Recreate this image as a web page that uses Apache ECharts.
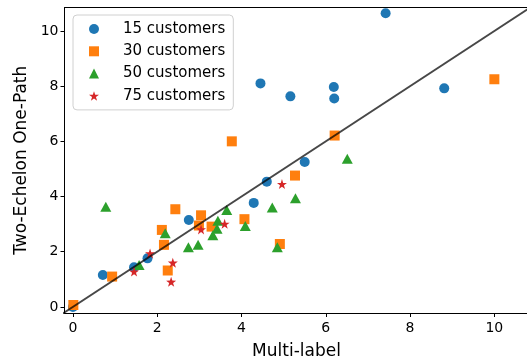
<!DOCTYPE html>
<html>
<head>
<meta charset="utf-8">
<script src="https://cdn.jsdelivr.net/npm/echarts@6/dist/echarts.min.js"></script>
<style>
  html, body { margin: 0; padding: 0; background: #fff; }
  #chart { width: 527px; height: 360px; }
</style>
</head>
<body>
<div id="chart"></div>
<script>
// Objective values: multi-label heuristic (x) vs. two-echelon one-path (y)
const c15x = [0.00, 0.71, 1.45, 1.77, 2.75, 4.29, 4.60, 5.50, 4.45, 5.16, 6.19, 6.20, 7.42, 8.81];
const c15y = [0.00, 1.16, 1.44, 1.76, 3.15, 3.77, 4.54, 5.25, 8.10, 7.63, 7.97, 7.55, 10.64, 7.92];

const c30x = [0.01, 0.93, 2.25, 2.16, 2.11, 2.43, 3.04, 2.99, 3.29, 3.77, 4.07, 4.91, 5.27, 6.21, 10.00];
const c30y = [0.07, 1.10, 1.32, 2.25, 2.79, 3.54, 3.32, 2.95, 2.91, 6.00, 3.18, 2.28, 4.76, 6.21, 8.25];

const c50x = [0.78, 1.57, 2.19, 2.74, 2.97, 3.32, 3.42, 3.44, 3.65, 4.09, 4.73, 4.85, 5.28, 6.51];
const c50y = [3.63, 1.52, 2.67, 2.16, 2.25, 2.60, 2.83, 3.12, 3.51, 2.93, 3.60, 2.16, 3.94, 5.37];

const c75x = [1.45, 1.83, 2.37, 2.33, 3.04, 3.60, 4.96];
const c75y = [1.28, 1.94, 1.60, 0.91, 2.81, 3.01, 4.45];

const seriesNames = ['15 customers', '30 customers', '50 customers', '75 customers'];
const tickValues = [0, 2, 4, 6, 8, 10];
// y = x reference, clipped to the plot area
const identityEnds = [-1, 12];

const zip = (xs, ys) => xs.map((x, i) => [x, ys[i]]);

const starPath = 'path://M50,0 L61.8,35.3 L98.9,35.5 L69.1,57.7 L80.2,93.1 L50,71.6 L19.8,93.1 L30.9,57.7 L1.1,35.5 L38.2,35.3 Z';

const font = 'DejaVu Sans';
const chart = echarts.init(document.getElementById('chart'), null, { renderer: 'canvas' });

const xBase = {
  type: 'value', min: -0.2, max: 10.81,
  axisLine: { show: true, onZero: false, lineStyle: { color: '#000', width: 1 } },
  splitLine: { show: false }
};

chart.setOption({
  animation: false,
  backgroundColor: '#fff',
  grid: { left: 64.5, top: 7.5, right: -1.5, bottom: 47, containLabel: false, outerBoundsMode: 'none' },
  legend: {
    orient: 'vertical', left: 73, top: 15,
    data: seriesNames,
    itemWidth: 10, itemHeight: 10, itemGap: 6.3,
    padding: [6, 8, 6, 16],
    backgroundColor: 'rgba(255,255,255,0.8)',
    borderColor: '#d0d0d0', borderWidth: 1, borderRadius: 4,
    textStyle: { fontFamily: font, fontSize: 15, color: '#000', lineHeight: 16, padding: [0, 0, 0, 19] }
  },
  xAxis: [
    Object.assign({}, xBase, {
      position: 'bottom',
      name: 'Multi-label', nameLocation: 'middle', nameGap: 30,
      nameTextStyle: { fontFamily: font, fontSize: 17, color: '#000' },
      axisTick: { show: true, inside: false, length: 4, customValues: tickValues, lineStyle: { color: '#000' } },
      axisLabel: { show: true, customValues: tickValues, margin: 8, fontFamily: font, fontSize: 14, color: '#000' }
    }),
    Object.assign({}, xBase, {
      position: 'top',
      axisTick: { show: false }, axisLabel: { show: false }
    })
  ],
  yAxis: {
    type: 'value', min: -0.22, max: 10.85,
    name: 'Two-Echelon One-Path', nameLocation: 'middle', nameGap: 28,
    nameTextStyle: { fontFamily: font, fontSize: 17, color: '#000' },
    axisLine: { show: true, onZero: false, lineStyle: { color: '#000', width: 1 } },
    axisTick: { show: true, inside: false, length: 4, customValues: tickValues, lineStyle: { color: '#000' } },
    axisLabel: { show: true, customValues: tickValues, margin: 6, fontFamily: font, fontSize: 14, color: '#000' },
    splitLine: { show: false }
  },
  series: [
    { name: seriesNames[0], type: 'scatter', data: zip(c15x, c15y), symbol: 'circle', symbolSize: 10,
      itemStyle: { color: '#1f77b4', opacity: 1 }, z: 2 },
    { name: seriesNames[1], type: 'scatter', data: zip(c30x, c30y), symbol: 'rect', symbolSize: 10,
      itemStyle: { color: '#ff7f0e', opacity: 1 }, z: 3 },
    { name: seriesNames[2], type: 'scatter', data: zip(c50x, c50y), symbol: 'triangle', symbolSize: [11, 10],
      itemStyle: { color: '#2ca02c', opacity: 1 }, z: 4 },
    { name: seriesNames[3], type: 'scatter', data: zip(c75x, c75y), symbol: starPath, symbolSize: 10,
      itemStyle: { color: '#d62728', opacity: 1 }, z: 5 },
    { name: 'identity', type: 'line', data: zip(identityEnds, identityEnds), symbol: 'none', clip: true,
      lineStyle: { color: '#000', opacity: 0.72, width: 1.8 }, z: 6, silent: true }
  ]
});
</script>
</body>
</html>
